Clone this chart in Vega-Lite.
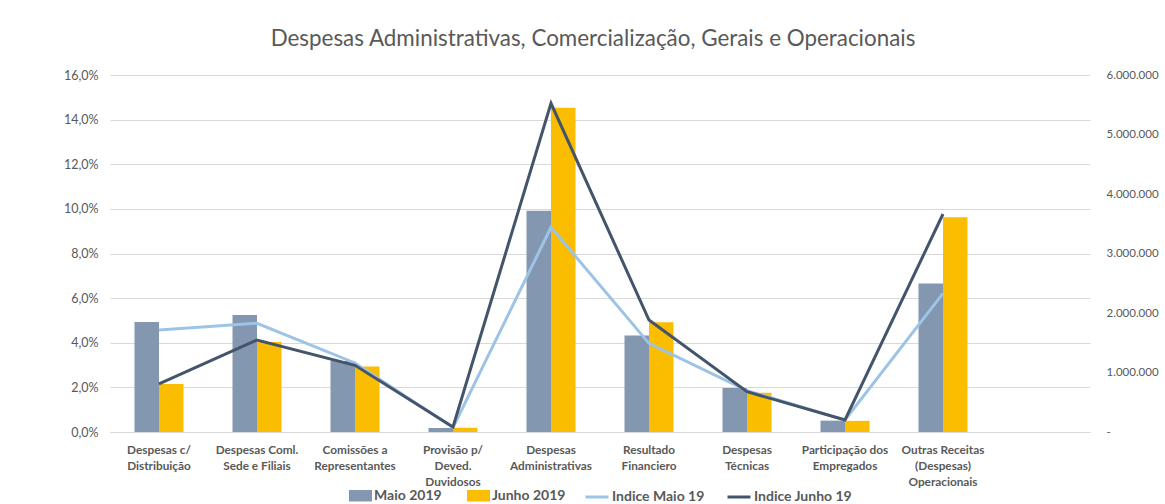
{
  "$schema": "https://vega.github.io/schema/vega-lite/v6.json",
  "width": 980,
  "height": 357,
  "autosize": "none",
  "padding": {"left": 110, "top": 75, "right": 75, "bottom": 72},
  "background": "white",
  "config": {
    "font": "Lato",
    "view": {"stroke": null}
  },
  "title": {
    "text": "Despesas Administrativas, Comercialização, Gerais e Operacionais",
    "fontSize": 22.4,
    "font": "Lato",
    "fontWeight": "normal",
    "color": "#595959",
    "anchor": "middle",
    "offset": 19,
    "dx": -7
  },
  "datasets": {
    "bars": [
      {"cat": "Despesas c/\nDistribuição", "serie": "Maio 2019", "value": 0.0493},
      {"cat": "Despesas c/\nDistribuição", "serie": "Junho 2019", "value": 0.0215},
      {"cat": "Despesas Coml.\nSede e Filiais", "serie": "Maio 2019", "value": 0.0524},
      {"cat": "Despesas Coml.\nSede e Filiais", "serie": "Junho 2019", "value": 0.0403},
      {"cat": "Comissões a\nRepresentantes", "serie": "Maio 2019", "value": 0.0318},
      {"cat": "Comissões a\nRepresentantes", "serie": "Junho 2019", "value": 0.0294},
      {"cat": "Provisão p/\nDeved.\nDuvidosos", "serie": "Maio 2019", "value": 0.0018},
      {"cat": "Provisão p/\nDeved.\nDuvidosos", "serie": "Junho 2019", "value": 0.0019},
      {"cat": "Despesas\nAdministrativas", "serie": "Maio 2019", "value": 0.0992},
      {"cat": "Despesas\nAdministrativas", "serie": "Junho 2019", "value": 0.1453},
      {"cat": "Resultado\nFinanciero", "serie": "Maio 2019", "value": 0.0432},
      {"cat": "Resultado\nFinanciero", "serie": "Junho 2019", "value": 0.0492},
      {"cat": "Despesas\nTécnicas", "serie": "Maio 2019", "value": 0.0197},
      {"cat": "Despesas\nTécnicas", "serie": "Junho 2019", "value": 0.0176},
      {"cat": "Participação dos\nEmpregados", "serie": "Maio 2019", "value": 0.0051},
      {"cat": "Participação dos\nEmpregados", "serie": "Junho 2019", "value": 0.005},
      {"cat": "Outras Receitas\n(Despesas)\nOperacionais", "serie": "Maio 2019", "value": 0.0666},
      {"cat": "Outras Receitas\n(Despesas)\nOperacionais", "serie": "Junho 2019", "value": 0.0962}
    ],
    "lines": [
      {"cat": "Despesas c/\nDistribuição", "serie": "Indice Maio 19", "value": 1714000},
      {"cat": "Despesas Coml.\nSede e Filiais", "serie": "Indice Maio 19", "value": 1827000},
      {"cat": "Comissões a\nRepresentantes", "serie": "Indice Maio 19", "value": 1160000},
      {"cat": "Provisão p/\nDeved.\nDuvidosos", "serie": "Indice Maio 19", "value": 75000},
      {"cat": "Despesas\nAdministrativas", "serie": "Indice Maio 19", "value": 3440000},
      {"cat": "Resultado\nFinanciero", "serie": "Indice Maio 19", "value": 1490000},
      {"cat": "Despesas\nTécnicas", "serie": "Indice Maio 19", "value": 694000},
      {"cat": "Participação dos\nEmpregados", "serie": "Indice Maio 19", "value": 202000},
      {"cat": "Outras Receitas\n(Despesas)\nOperacionais", "serie": "Indice Maio 19", "value": 2331000},
      {"cat": "Despesas c/\nDistribuição", "serie": "Indice Junho 19", "value": 807000},
      {"cat": "Despesas Coml.\nSede e Filiais", "serie": "Indice Junho 19", "value": 1546000},
      {"cat": "Comissões a\nRepresentantes", "serie": "Indice Junho 19", "value": 1121000},
      {"cat": "Provisão p/\nDeved.\nDuvidosos", "serie": "Indice Junho 19", "value": 85000},
      {"cat": "Despesas\nAdministrativas", "serie": "Indice Junho 19", "value": 5524000},
      {"cat": "Resultado\nFinanciero", "serie": "Indice Junho 19", "value": 1882000},
      {"cat": "Despesas\nTécnicas", "serie": "Indice Junho 19", "value": 678000},
      {"cat": "Participação dos\nEmpregados", "serie": "Indice Junho 19", "value": 202000},
      {"cat": "Outras Receitas\n(Despesas)\nOperacionais", "serie": "Indice Junho 19", "value": 3664000}
    ]
  },
  "layer": [
    {
      "data": {"name": "bars"},
      "mark": {"type": "bar"},
      "encoding": {
        "x": {
          "field": "cat",
          "type": "nominal",
          "sort": null,
          "scale": {
            "domain": ["Despesas c/\nDistribuição", "Despesas Coml.\nSede e Filiais", "Comissões a\nRepresentantes", "Provisão p/\nDeved.\nDuvidosos", "Despesas\nAdministrativas", "Resultado\nFinanciero", "Despesas\nTécnicas", "Participação dos\nEmpregados", "Outras Receitas\n(Despesas)\nOperacionais", " "],
            "paddingInner": 0,
            "paddingOuter": 0
          },
          "axis": {
            "title": null,
            "labelAngle": 0,
            "labelExpr": "split(datum.label, '\\n')",
            "labelFontWeight": "bold",
            "labelFontSize": 11.8,
            "labelColor": "#595959",
            "labelLineHeight": 16,
            "labelPadding": 12,
            "labelLimit": 200,
            "ticks": false,
            "domainColor": "#D9D9D9",
            "domainWidth": 1,
            "grid": false
          }
        },
        "xOffset": {
          "field": "serie",
          "type": "nominal",
          "sort": ["Maio 2019", "Junho 2019"],
          "scale": {"paddingInner": 0, "paddingOuter": 1.085}
        },
        "y": {
          "field": "value",
          "type": "quantitative",
          "scale": {"domain": [0, 0.16], "nice": false},
          "axis": {
            "title": null,
            "values": [0, 0.02, 0.04, 0.06, 0.08, 0.1, 0.12, 0.14, 0.16],
            "labelExpr": "replace(format(datum.value, '.1%'), '.', ',')",
            "labelColor": "#595959",
            "labelFontSize": 12.5,
            "labelPadding": 12,
            "domain": false,
            "ticks": false,
            "grid": true,
            "gridColor": "#D9D9D9",
            "gridWidth": 1
          }
        },
        "fill": {
          "field": "serie",
          "type": "nominal",
          "sort": ["Maio 2019", "Junho 2019"],
          "scale": {"domain": ["Maio 2019", "Junho 2019"], "range": ["#8497B0", "#FABD00"]},
          "legend": {
            "title": null,
            "orient": "none",
            "legendX": 239,
            "legendY": 409,
            "direction": "horizontal",
            "symbolType": "M-1,-0.5H1V0.5H-1Z",
            "symbolSize": 529,
            "symbolStrokeWidth": 0,
            "symbolOpacity": 1,
            "labelFontWeight": "bold",
            "labelFontSize": 14,
            "labelColor": "#595959",
            "labelOffset": 2,
            "columnPadding": 25
          }
        }
      }
    },
    {
      "data": {"name": "lines"},
      "mark": {"type": "line", "strokeWidth": 3},
      "encoding": {
        "x": {
          "field": "cat",
          "type": "nominal",
          "sort": null
        },
        "y": {
          "field": "value",
          "type": "quantitative",
          "scale": {"domain": [0, 6000000], "nice": false},
          "axis": {
            "orient": "right",
            "title": null,
            "values": [0, 1000000, 2000000, 3000000, 4000000, 5000000, 6000000],
            "labelExpr": "datum.value == 0 ? '-' : replace(replace(format(datum.value, ','), ',', '.'), ',', '.')",
            "labelColor": "#595959",
            "labelFontSize": 11.5,
            "labelPadding": 16,
            "domain": false,
            "ticks": false,
            "grid": false
          }
        },
        "stroke": {
          "field": "serie",
          "type": "nominal",
          "sort": ["Indice Maio 19", "Indice Junho 19"],
          "scale": {"domain": ["Indice Maio 19", "Indice Junho 19"], "range": ["#9DC3E6", "#44546A"]},
          "legend": {
            "title": null,
            "orient": "none",
            "legendX": 474,
            "legendY": 409,
            "direction": "horizontal",
            "symbolType": "stroke",
            "symbolSize": 529,
            "symbolStrokeWidth": 3,
            "labelFontWeight": "bold",
            "labelFontSize": 14,
            "labelColor": "#595959",
            "labelOffset": 2,
            "columnPadding": 16
          }
        }
      }
    }
  ],
  "resolve": {"scale": {"y": "independent"}}
}
